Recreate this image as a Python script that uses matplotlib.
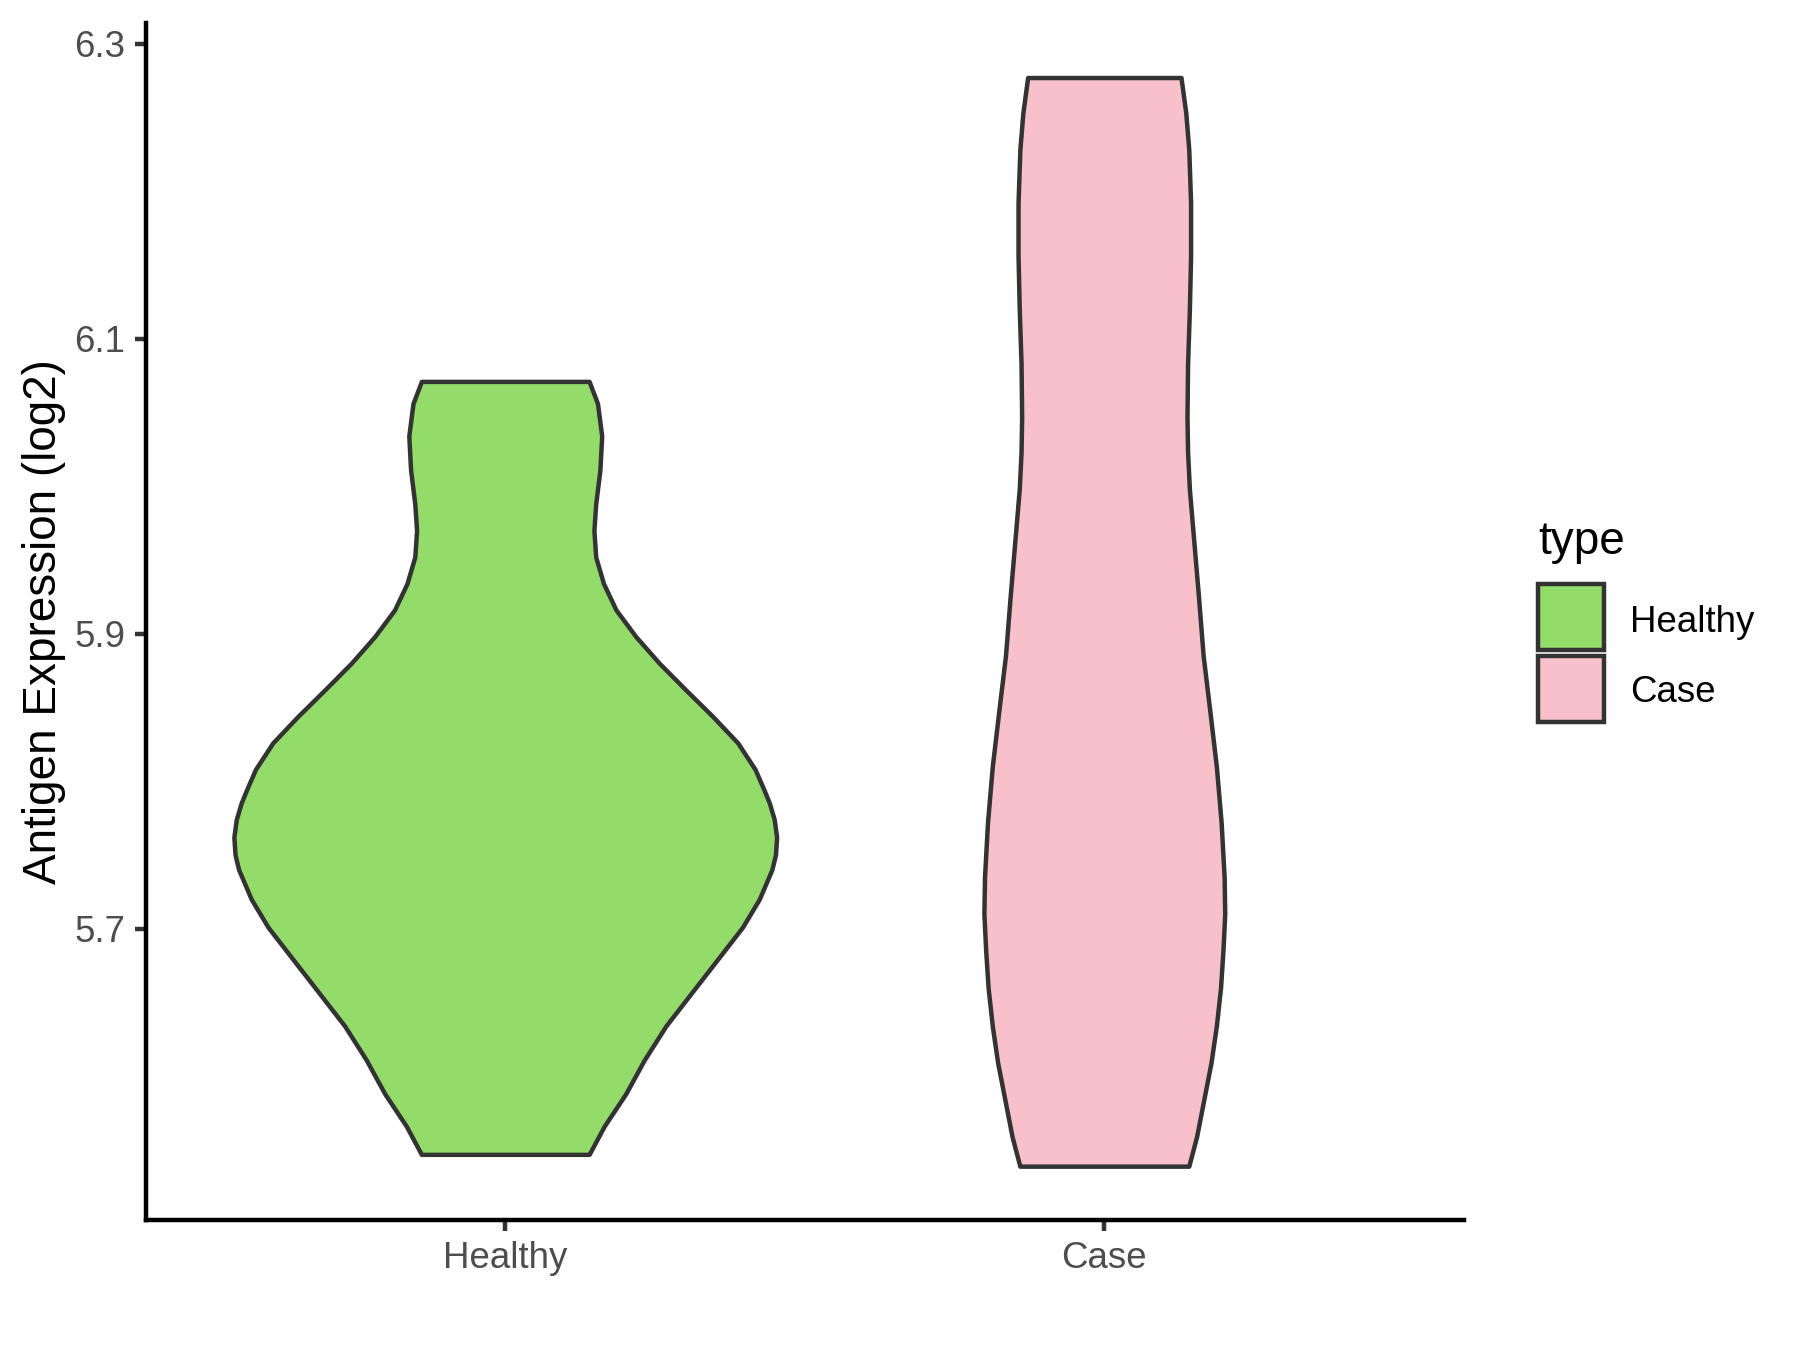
import matplotlib.pyplot as plt
from matplotlib.patches import Rectangle

# Violin outlines: y level and half-width (in category units)
groups = ["Healthy", "Case"]
colors = ["#93DC6A", "#F7C0CB"]

healthy_y = [6.071, 6.056, 6.034, 6.011, 5.988, 5.970, 5.952, 5.934, 5.916, 5.898,
             5.880, 5.862, 5.844, 5.826, 5.808, 5.794, 5.785, 5.774, 5.762, 5.750,
             5.740, 5.720, 5.701, 5.679, 5.656, 5.634, 5.611, 5.588, 5.566, 5.547]
healthy_half = [0.140, 0.154, 0.161, 0.158, 0.151, 0.148, 0.151, 0.164, 0.185, 0.218,
                0.257, 0.301, 0.346, 0.388, 0.417, 0.432, 0.441, 0.449, 0.453, 0.451,
                0.445, 0.424, 0.396, 0.354, 0.310, 0.268, 0.232, 0.201, 0.165, 0.140]

case_y = [6.277, 6.253, 6.228, 6.192, 6.156, 6.120, 6.083, 6.047, 6.023, 5.998,
          5.974, 5.950, 5.926, 5.885, 5.848, 5.810, 5.772, 5.735, 5.710, 5.685,
          5.660, 5.634, 5.609, 5.584, 5.559, 5.539]
case_half = [0.128, 0.136, 0.141, 0.144, 0.144, 0.142, 0.139, 0.138, 0.139, 0.142,
             0.147, 0.152, 0.157, 0.165, 0.176, 0.187, 0.195, 0.200, 0.201, 0.198,
             0.194, 0.187, 0.178, 0.166, 0.154, 0.141]

y_ticks = [5.7, 5.9, 6.1, 6.3]

plt.rcParams['font.family'] = ['Liberation Sans', 'DejaVu Sans']

fig = plt.figure(figsize=(6, 4.5), dpi=300)
ax = fig.add_axes([0.081, 0.0963, 0.7322, 0.8867])

outline = "#333333"
lw = 1.07
profiles = [(healthy_y, healthy_half), (case_y, case_half)]
for i, (ys, halves) in enumerate(profiles):
    pos = i + 1
    left = [pos - h for h in halves]
    right = [pos + h for h in halves]
    ax.fill_betweenx(ys, left, right, facecolor=colors[i], edgecolor=outline,
                     linewidth=lw, joinstyle='round')

ax.set_xlim(0.4, 2.6)
ax.set_ylim(5.5025, 6.314)
ax.set_xticks([1, 2])
ax.set_xticklabels(groups)
ax.set_yticks(y_ticks)
ax.set_yticklabels([f"{v:.1f}" for v in y_ticks])

# classic theme look
for side in ["top", "right"]:
    ax.spines[side].set_visible(False)
for side in ["left", "bottom"]:
    ax.spines[side].set_linewidth(lw)
    ax.spines[side].set_color("black")
ax.tick_params(length=2.75, width=lw, color=outline, labelcolor="#4D4D4D",
               labelsize=8.8, pad=2.2)

ax.set_ylabel("Antigen Expression (log2)", fontsize=11, color="black")
ax.yaxis.set_label_coords(-0.0605, 0.5)

# legend drawn by hand
fig.text(0.8544, 0.5986, "type", fontsize=11, va="center", ha="left")
key_y = [0.5185, 0.4652]
label_y = [0.5388, 0.487]
for i, name in enumerate(groups):
    fig.add_artist(Rectangle((0.8544, key_y[i]), 0.0367, 0.0489, transform=fig.transFigure,
                             facecolor=colors[i], edgecolor=outline, linewidth=lw))
    fig.text(0.9056, label_y[i], name, fontsize=8.8, va="center", ha="left")

fig.savefig("out.png", dpi=300)
